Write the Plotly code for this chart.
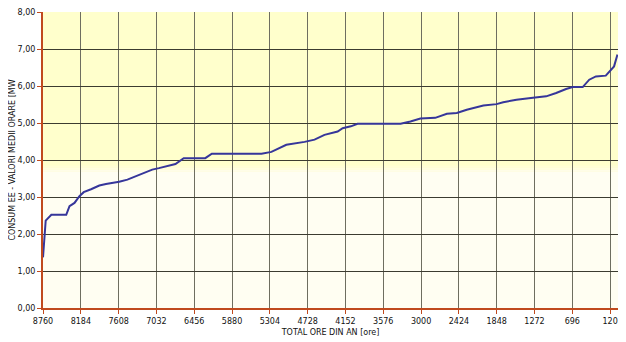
import plotly.graph_objects as go

# Data (hours of year, sorted load in MW)
hours = [8760, 8727, 8719, 8633, 8406, 8356, 8280, 8205, 8140, 8028, 7902, 7801,
         7599, 7474, 7347, 7247, 7096, 6994, 6742, 6616, 6288, 6188, 5431, 5280,
         5204, 5053, 4775, 4623, 4472, 4271, 4195, 4070, 3968, 3313, 3162, 3011,
         2784, 2607, 2456, 2304, 2051, 1850, 1749, 1547, 1295, 1094, 942, 791,
         690, 538, 438, 337, 186, 110, 60, 8]
load_mw = [1.37, 2.34, 2.36, 2.52, 2.52, 2.75, 2.84, 3.02, 3.13, 3.21, 3.31, 3.35,
           3.41, 3.47, 3.56, 3.65, 3.74, 3.78, 3.89, 4.05, 4.05, 4.17, 4.17, 4.22,
           4.28, 4.41, 4.49, 4.55, 4.68, 4.77, 4.86, 4.91, 4.98, 4.98, 5.04, 5.12,
           5.14, 5.25, 5.27, 5.36, 5.47, 5.51, 5.56, 5.63, 5.68, 5.72, 5.81, 5.92,
           5.97, 5.97, 6.17, 6.26, 6.28, 6.42, 6.53, 6.85]

x_tick_vals = [8760, 8184, 7608, 7032, 6456, 5880, 5304, 4728, 4152, 3576,
               3000, 2424, 1848, 1272, 696, 120]
x_tick_text = [str(v) for v in x_tick_vals]
y_tick_vals = [0, 1, 2, 3, 4, 5, 6, 7, 8]

axis_col = "#C04A1E"
grid_col = "#3C3C30"
font_fam = "DejaVu Sans"
txt_col = "#111111"

fig = go.Figure()
fig.add_trace(go.Scatter(
    x=hours, y=load_mw, mode="lines",
    line=dict(color="#36369A", width=2),
    showlegend=False, hoverinfo="skip",
))

# Background bands (light yellow top, paler lower with soft transition)
fig.add_shape(type="rect", xref="paper", yref="y", x0=0, x1=1, y0=0, y1=3.68,
              fillcolor="#FFFEF2", line_width=0, layer="below")
band_cols = ["#FFFDE8", "#FFFEDF", "#FFFED5"]
for i, c in enumerate(band_cols):
    fig.add_shape(type="rect", xref="paper", yref="y", x0=0, x1=1,
                  y0=3.68 + i * 0.055, y1=3.68 + (i + 1) * 0.055,
                  fillcolor=c, line_width=0, layer="below")

# The page body has an 8px margin, so the figure is sized/offset to compensate
fig.update_layout(
    width=610, height=334,
    margin=dict(l=35, r=0, t=4, b=34, autoexpand=False),
    paper_bgcolor="white",
    plot_bgcolor="#FFFFCC",
    separators=",.",
    font=dict(family=font_fam, size=8, color=txt_col),
)
fig.update_xaxes(
    range=[8760, 0], automargin=False, ticklabeloverflow="allow",
    tickmode="array", tickvals=x_tick_vals, ticktext=x_tick_text,
    showgrid=True, gridcolor="#6E6E60", gridwidth=1,
    showline=True, linecolor=axis_col, linewidth=2,
    ticks="outside", ticklen=4, tickcolor=axis_col, tickwidth=1,
    tickfont=dict(family=font_fam, size=8, color=txt_col),
    title=dict(text="TOTAL ORE DIN AN [ore]", font=dict(family=font_fam, size=8, color=txt_col),
               standoff=5),
    zeroline=False,
)
fig.update_yaxes(
    range=[0, 8], automargin=False, ticklabeloverflow="allow",
    tickmode="array", tickvals=y_tick_vals, tickformat=".2f",
    showgrid=True, gridcolor=grid_col, gridwidth=1,
    showline=True, linecolor=axis_col, linewidth=2,
    ticks="outside", ticklen=4, tickcolor=axis_col, tickwidth=1,
    tickfont=dict(family=font_fam, size=8, color=txt_col),
    title=dict(text="CONSUM EE - VALORI MEDII ORARE [MW", font=dict(family=font_fam, size=8, color=txt_col),
               standoff=2),
    zeroline=False,
)

fig.write_html("out.html")
